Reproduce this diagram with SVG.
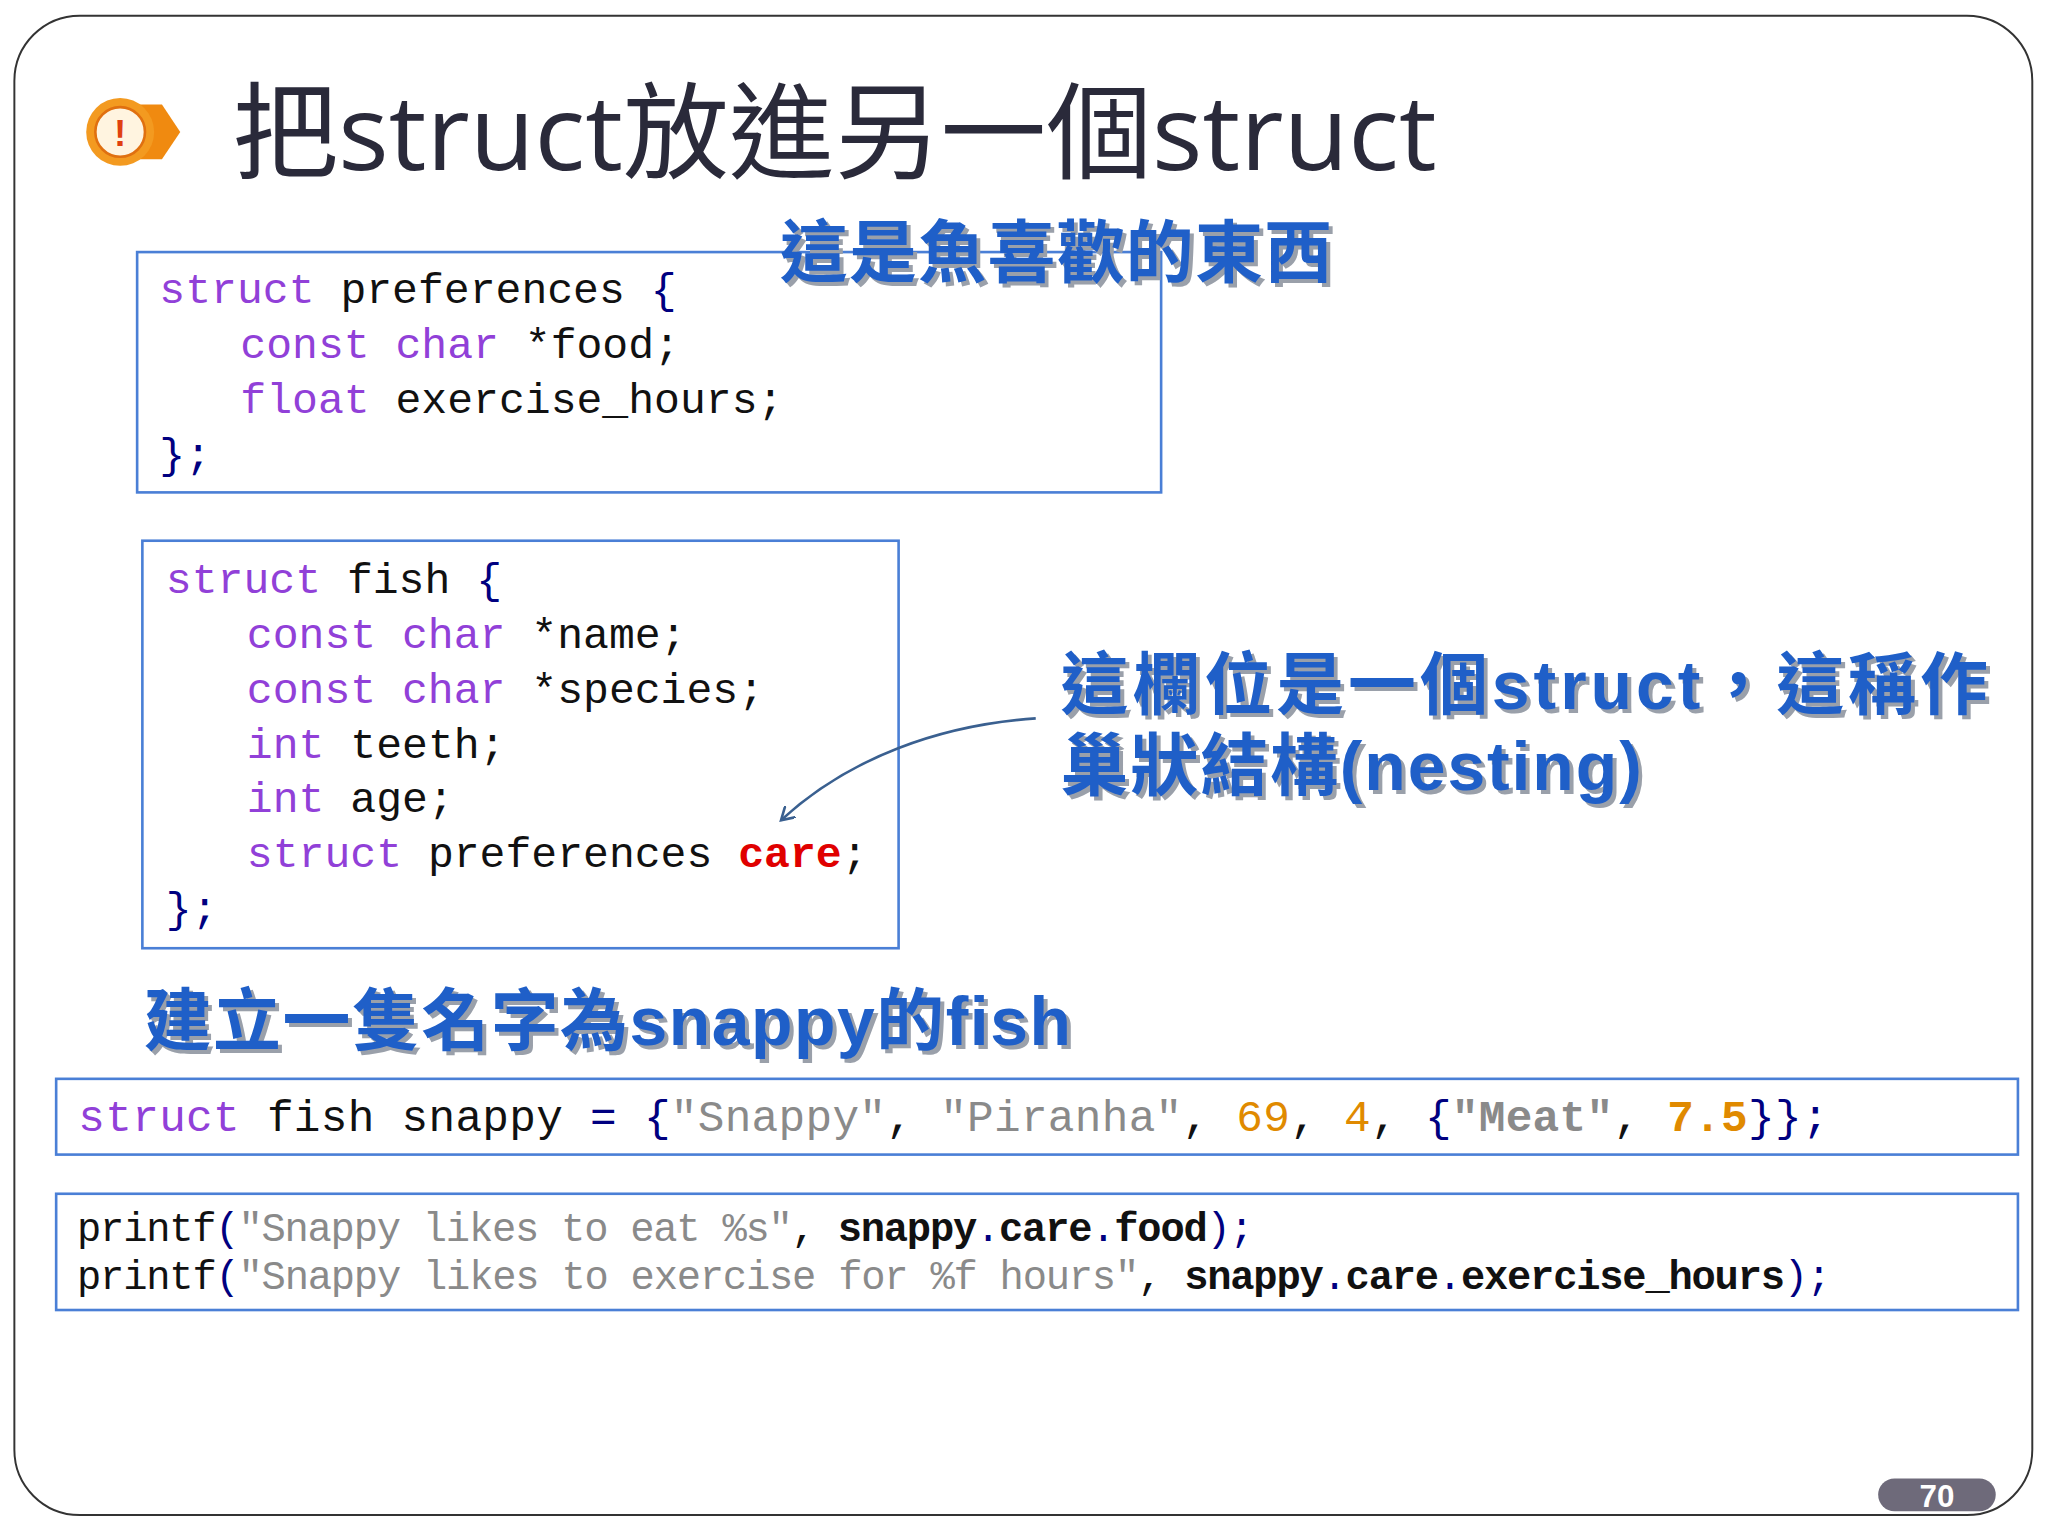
<svg xmlns="http://www.w3.org/2000/svg" width="2048" height="1536" viewBox="0 0 2048 1536">
<defs>
<style>
.code{font-family:"Liberation Mono",monospace;font-size:33px;fill:#111}
.kw{fill:#9140d8}.br{fill:#000080}.st{fill:#8a8a8a}.nm{fill:#e08a00}.rd{fill:#e00000;font-weight:bold}.b{font-weight:bold}
.box{fill:#fff;stroke:#4a7fd6;stroke-width:2}
.lbl{font-family:"Liberation Sans","Noto Sans CJK TC",sans-serif;font-weight:bold;fill:#1f5fc8;font-size:52px}
.sh{fill:#9aa0aa}
</style>
<marker id="ah" markerWidth="12" markerHeight="12" refX="10" refY="6" orient="auto" markerUnits="userSpaceOnUse"><path d="M0,0 L10,6 L0,12" fill="none" stroke="#3a6090" stroke-width="2"/></marker>
</defs>
<rect width="2048" height="1536" fill="#fff"/>
<g transform="scale(1.3061,1.3061)">
<g id="frame"><rect x="11" y="12" width="1545" height="1148" rx="50" fill="none" stroke="#333" stroke-width="1.5"/></g>
<g id="icon"><path d="M100,80 L124,80 L138,101 L124,122 L100,122 Z" fill="#f08a10"/><circle cx="92" cy="101" r="26" fill="#f39a20"/><circle cx="92" cy="101" r="19" fill="#fff4e0" stroke="#e07010" stroke-width="2"/><text x="92" y="112" text-anchor="middle" font-family="Liberation Sans,sans-serif" font-weight="bold" font-size="28" fill="#e04010">!</text></g>
<g id="title"><text x="178" y="130" font-family="'Open Sans','Noto Sans CJK TC',sans-serif" font-size="80" fill="#2a2a3a" textLength="922" lengthAdjust="spacingAndGlyphs">把struct放進另一個struct</text></g>
<g id="prefs"><rect class="box" x="105" y="193" width="784" height="184"/>
<text class="code" x="122" y="232"><tspan class="kw">struct</tspan> preferences <tspan class="br">{</tspan></text>
<text class="code" x="184" y="274"><tspan class="kw">const char</tspan> *food;</text>
<text class="code" x="184" y="316"><tspan class="kw">float</tspan> exercise_hours;</text>
<text class="code br" x="122" y="358">};</text></g>
<g id="lbl1"><text class="lbl sh" x="600" y="215" textLength="423">這是魚喜歡的東西</text><text class="lbl" x="597" y="212" textLength="423">這是魚喜歡的東西</text></g>
<g id="fish"><rect class="box" x="109" y="414" width="579" height="312"/>
<text class="code" x="127" y="454"><tspan class="kw">struct</tspan> fish <tspan class="br">{</tspan></text>
<text class="code" x="189" y="496"><tspan class="kw">const char</tspan> *name;</text>
<text class="code" x="189" y="538"><tspan class="kw">const char</tspan> *species;</text>
<text class="code" x="189" y="580"><tspan class="kw">int</tspan> teeth;</text>
<text class="code" x="189" y="622"><tspan class="kw">int</tspan> age;</text>
<text class="code" x="189" y="664"><tspan class="kw">struct</tspan> preferences <tspan class="rd">care</tspan>;</text>
<text class="code br" x="127" y="706">};</text></g>
<g id="lbl2"><text class="lbl sh" x="815" y="546" textLength="710">這欄位是一個struct，這稱作</text><text class="lbl" x="812" y="543" textLength="710">這欄位是一個struct，這稱作</text>
<text class="lbl sh" x="815" y="608" textLength="445">巢狀結構(nesting)</text><text class="lbl" x="812" y="605" textLength="445">巢狀結構(nesting)</text></g>
<g id="connectors"><path d="M793,550 C720,555 650,580 598,628" fill="none" stroke="#3a6090" stroke-width="2" marker-end="url(#ah)"/></g>
<g id="lbl3"><text class="lbl sh" x="113" y="803" textLength="710">建立一隻名字為snappy的fish</text><text class="lbl" x="110" y="800" textLength="710">建立一隻名字為snappy的fish</text></g>
<g id="snappy"><rect class="box" x="43" y="826" width="1502" height="58"/>
<text class="code" x="60" y="866" textLength="1340" style="font-size:34px"><tspan class="kw">struct</tspan> fish snappy <tspan class="br">= {</tspan><tspan class="st">"Snappy"</tspan>, <tspan class="st">"Piranha"</tspan>, <tspan class="nm">69</tspan>, <tspan class="nm">4</tspan>, <tspan class="br">{</tspan><tspan class="st b">"Meat"</tspan>, <tspan class="nm b">7.5</tspan><tspan class="br">}};</tspan></text></g>
<g id="printf"><rect class="box" x="43" y="914" width="1502" height="89"/>
<text class="code" x="59" y="950" textLength="901" style="font-size:31px">printf<tspan class="br">(</tspan><tspan class="st">"Snappy likes to eat %s"</tspan>, <tspan class="b">snappy</tspan><tspan class="br">.</tspan><tspan class="b">care</tspan><tspan class="br">.</tspan><tspan class="b">food</tspan><tspan class="br">);</tspan></text>
<text class="code" x="59" y="987" textLength="1343" style="font-size:31px">printf<tspan class="br">(</tspan><tspan class="st">"Snappy likes to exercise for %f hours"</tspan>, <tspan class="b">snappy</tspan><tspan class="br">.</tspan><tspan class="b">care</tspan><tspan class="br">.</tspan><tspan class="b">exercise_hours</tspan><tspan class="br">);</tspan></text></g>
<g id="page"><rect x="1438" y="1132" width="90" height="25" rx="12.5" fill="#6e6a7a"/><text x="1483" y="1154" text-anchor="middle" font-family="Liberation Sans,sans-serif" font-weight="bold" font-size="24" fill="#fff">70</text></g>
</g>
</svg>
